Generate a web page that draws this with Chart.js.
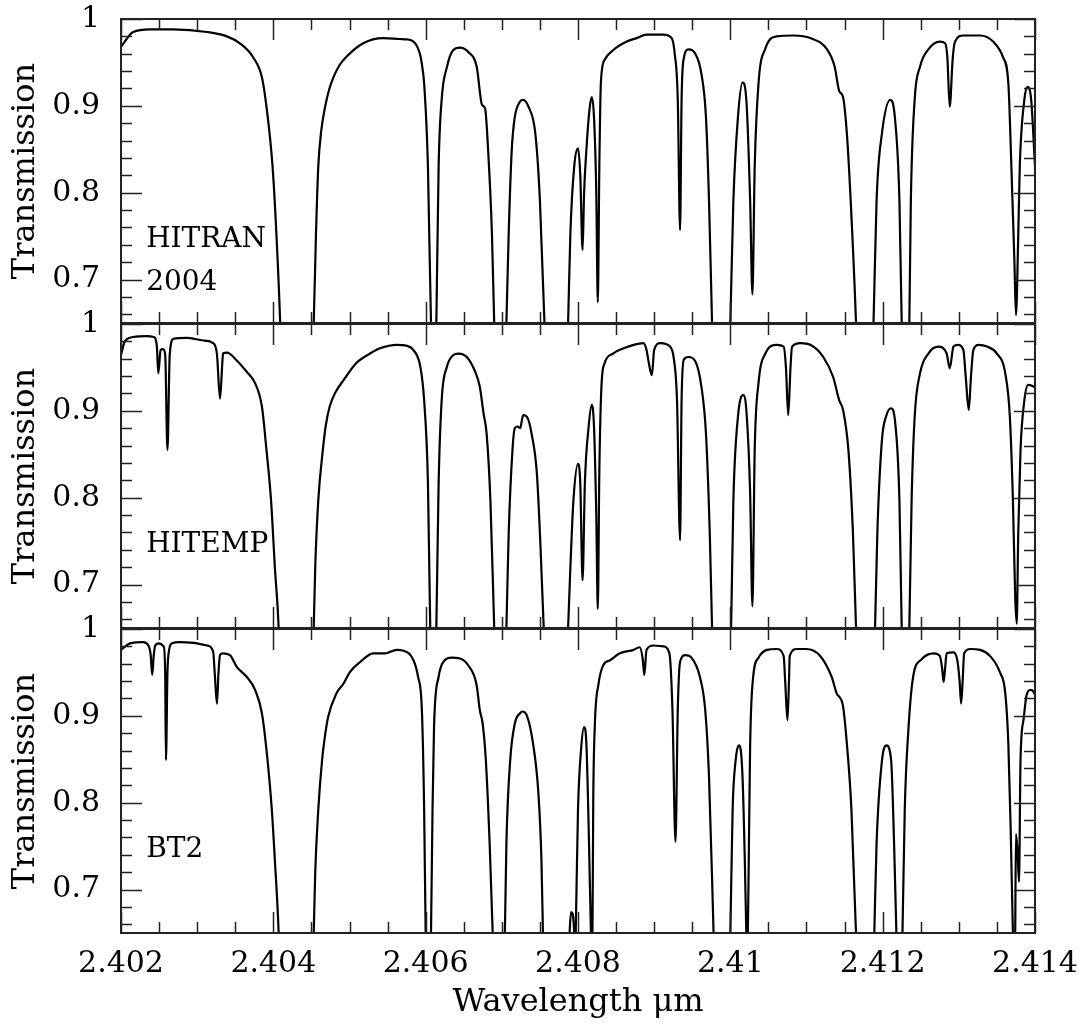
<!DOCTYPE html>
<html>
<head>
<meta charset="utf-8">
<title>Transmission</title>
<script src="https://cdn.jsdelivr.net/npm/chart.js@4.4.1/dist/chart.umd.min.js"></script>
<style>
  html, body { margin: 0; padding: 0; background: #fff; }
  #stack { position: relative; width: 1084px; height: 1025px; }
  #stack canvas { position: absolute; left: 0; top: 0; }
</style>
</head>
<body>
<div id="stack">
  <canvas id="panel0" width="1084" height="1025"></canvas>
  <canvas id="panel1" width="1084" height="1025"></canvas>
  <canvas id="panel2" width="1084" height="1025"></canvas>
</div>
<script>
// Axis ranges and tick labels
const X_MIN = 2.402, X_MAX = 2.414;
const Y_MIN = 0.65, Y_MAX = 1.0;
const xTickValues = [2.402, 2.404, 2.406, 2.408, 2.410, 2.412, 2.414];
const yTickValues = [0.7, 0.8, 0.9, 1.0];
const panelNames = [['HITRAN', '2004'], ['HITEMP'], ['BT2']];

// [wavelength (um), transmission] for each line list
const hitran2004 = [
  [2.40200,0.968],[2.40216,0.985],[2.40238,0.988],[2.40268,0.988],[2.40313,0.985],[2.40339,0.980],
  [2.40356,0.972],[2.40373,0.9565],[2.40385,0.933],[2.40391,0.899],[2.40399,0.830],[2.40404,0.753],
  [2.40409,0.650],[2.40410,0.62],[2.40451,0.62],[2.40453,0.650],[2.40456,0.753],[2.40459,0.830],
  [2.40463,0.872],[2.40468,0.899],[2.40473,0.918],[2.40479,0.933],[2.40487,0.947],[2.40496,0.9565],
  [2.40518,0.972],[2.40544,0.978],[2.40566,0.977],[2.40576,0.9765],[2.40584,0.974],[2.40589,0.968],
  [2.40593,0.958],[2.40596,0.942],[2.40598,0.926],[2.40603,0.830],[2.40607,0.650],[2.40610,0.62],
  [2.40613,0.62],[2.40614,0.650],[2.40617,0.830],[2.40621,0.907],[2.40628,0.945],[2.40636,0.964],
  [2.40645,0.967],[2.40656,0.962],[2.40667,0.945],[2.40674,0.901],[2.40678,0.897],[2.40682,0.849],
  [2.40687,0.753],[2.40690,0.650],[2.40691,0.62],[2.40705,0.62],[2.40706,0.650],[2.40709,0.753],
  [2.40713,0.849],[2.40717,0.887],[2.40724,0.905],[2.40728,0.907],[2.40735,0.899],[2.40744,0.868],
  [2.40750,0.791],[2.40756,0.650],[2.40757,0.62],[2.40786,0.62],[2.40787,0.650],[2.40790,0.753],
  [2.40795,0.830],[2.40800,0.851],[2.40803,0.820],[2.40806,0.734],[2.40808,0.800],[2.40811,0.849],
  [2.40815,0.895],[2.40818,0.910],[2.40821,0.887],[2.40824,0.800],[2.40826,0.674],[2.40828,0.830],
  [2.40830,0.926],[2.40835,0.953],[2.40846,0.964],[2.40864,0.974],[2.40877,0.978],[2.40890,0.982],
  [2.40912,0.982],[2.40923,0.978],[2.40927,0.960],[2.40931,0.907],[2.40934,0.757],[2.40936,0.907],
  [2.40939,0.955],[2.40945,0.965],[2.40954,0.960],[2.40962,0.937],[2.40968,0.887],[2.40972,0.791],
  [2.40976,0.650],[2.40977,0.62],[2.40999,0.62],[2.41000,0.650],[2.41004,0.791],[2.41010,0.887],
  [2.41016,0.927],[2.41021,0.907],[2.41026,0.791],[2.41029,0.683],[2.41032,0.830],[2.41037,0.926],
  [2.41046,0.966],[2.41061,0.980],[2.41083,0.981],[2.41105,0.978],[2.41127,0.965],[2.41137,0.945],
  [2.41143,0.917],[2.41148,0.910],[2.41153,0.868],[2.41158,0.791],[2.41165,0.650],[2.41166,0.62],
  [2.41187,0.62],[2.41188,0.650],[2.41192,0.791],[2.41199,0.868],[2.41210,0.907],[2.41216,0.887],
  [2.41222,0.791],[2.41225,0.650],[2.41226,0.62],[2.41234,0.62],[2.41235,0.650],[2.41237,0.791],
  [2.41242,0.907],[2.41249,0.945],[2.41260,0.965],[2.41275,0.974],[2.41282,0.972],[2.41285,0.955],
  [2.41288,0.899],[2.41292,0.955],[2.41295,0.974],[2.41306,0.981],[2.41328,0.981],[2.41345,0.974],
  [2.41358,0.956],[2.41365,0.926],[2.41369,0.830],[2.41373,0.720],[2.41375,0.659],[2.41378,0.750],
  [2.41380,0.830],[2.41386,0.907],[2.41390,0.922],[2.41395,0.907],[2.41400,0.830]
];

const hitemp = [
  [2.40200,0.964],[2.40205,0.980],[2.40216,0.985],[2.40234,0.986],[2.40243,0.985],[2.40247,0.975],
  [2.40249,0.943],[2.40252,0.970],[2.40255,0.971],[2.40258,0.965],[2.40261,0.855],[2.40264,0.965],
  [2.40269,0.983],[2.40286,0.984],[2.40308,0.981],[2.40321,0.978],[2.40326,0.965],[2.40330,0.914],
  [2.40333,0.955],[2.40334,0.966],[2.40339,0.967],[2.40352,0.958],[2.40365,0.945],[2.40376,0.932],
  [2.40385,0.905],[2.40391,0.855],[2.40397,0.797],[2.40402,0.720],[2.40407,0.650],[2.40408,0.62],
  [2.40451,0.62],[2.40453,0.650],[2.40455,0.720],[2.40459,0.797],[2.40465,0.855],[2.40469,0.884],
  [2.40474,0.905],[2.40482,0.922],[2.40492,0.935],[2.40509,0.955],[2.40527,0.966],[2.40540,0.972],
  [2.40562,0.976],[2.40575,0.975],[2.40584,0.970],[2.40593,0.951],[2.40598,0.912],[2.40603,0.816],
  [2.40606,0.650],[2.40607,0.62],[2.40613,0.62],
  [2.40614,0.650],[2.40617,0.816],[2.40621,0.912],[2.40628,0.951],[2.40636,0.964],[2.40643,0.966],
  [2.40654,0.962],[2.40665,0.945],[2.40671,0.928],[2.40676,0.897],[2.40680,0.874],[2.40685,0.797],
  [2.40690,0.650],[2.40691,0.62],[2.40705,0.62],[2.40706,0.650],[2.40709,0.759],[2.40714,0.855],
  [2.40717,0.880],[2.40721,0.882],[2.40724,0.880],[2.40728,0.895],[2.40733,0.893],[2.40739,0.874],
  [2.40746,0.828],[2.40751,0.739],[2.40755,0.650],[2.40757,0.62],[2.40786,0.62],[2.40787,0.650],
  [2.40790,0.720],[2.40794,0.797],[2.40800,0.839],[2.40803,0.816],[2.40806,0.705],[2.40809,0.816],
  [2.40814,0.882],[2.40818,0.907],[2.40821,0.882],[2.40824,0.780],[2.40826,0.672],[2.40828,0.830],
  [2.40831,0.932],[2.40835,0.955],[2.40846,0.966],[2.40860,0.972],[2.40873,0.976],[2.40886,0.978],
  [2.40890,0.970],[2.40893,0.955],[2.40897,0.941],[2.40900,0.970],[2.40908,0.978],[2.40921,0.974],
  [2.40926,0.959],[2.40930,0.912],[2.40934,0.751],[2.40936,0.912],[2.40939,0.959],[2.40945,0.962],
  [2.40954,0.957],[2.40962,0.928],[2.40968,0.874],[2.40973,0.759],[2.40976,0.650],[2.40977,0.62],
  [2.41000,0.62],[2.41001,0.650],[2.41004,0.797],[2.41010,0.893],[2.41017,0.918],[2.41021,0.901],
  [2.41026,0.805],[2.41029,0.675],[2.41032,0.855],[2.41037,0.932],[2.41046,0.966],[2.41061,0.976],
  [2.41070,0.974],[2.41073,0.950],[2.41076,0.895],[2.41079,0.950],[2.41081,0.974],[2.41092,0.978],
  [2.41105,0.976],[2.41122,0.962],[2.41135,0.939],[2.41143,0.912],[2.41148,0.901],[2.41155,0.855],
  [2.41161,0.759],[2.41165,0.650],[2.41166,0.62],[2.41189,0.62],[2.41190,0.650],[2.41193,0.759],
  [2.41199,0.866],[2.41205,0.895],[2.41211,0.903],[2.41216,0.890],[2.41222,0.797],[2.41225,0.650],
  [2.41226,0.62],[2.41234,0.62],[2.41235,0.650],[2.41238,0.797],[2.41242,0.893],[2.41249,0.943],
  [2.41260,0.966],[2.41273,0.974],[2.41284,0.966],[2.41288,0.949],[2.41293,0.974],[2.41299,0.976],
  [2.41306,0.970],[2.41309,0.940],[2.41313,0.901],[2.41316,0.940],[2.41319,0.970],[2.41326,0.976],
  [2.41337,0.974],[2.41350,0.966],[2.41361,0.943],[2.41367,0.893],[2.41371,0.797],[2.41374,0.686],
  [2.41376,0.655],[2.41378,0.759],[2.41381,0.855],[2.41386,0.912],[2.41391,0.930],[2.41396,0.929],
  [2.41400,0.927]
];

const bt2 = [
  [2.40200,0.976],[2.40212,0.9835],[2.40229,0.985],[2.40236,0.981],[2.40239,0.970],[2.40241,0.947],
  [2.40243,0.970],[2.40245,0.981],[2.40249,0.9835],[2.40256,0.980],[2.40258,0.950],[2.40259,0.849],
  [2.40261,0.950],[2.40263,0.975],[2.40267,0.9835],[2.40277,0.985],[2.40295,0.984],[2.40313,0.981],
  [2.40321,0.974],[2.40323,0.950],[2.40326,0.914],[2.40328,0.950],[2.40330,0.970],[2.40334,0.972],
  [2.40343,0.970],[2.40352,0.9565],[2.40365,0.945],[2.40376,0.930],[2.40385,0.903],[2.40391,0.861],
  [2.40398,0.792],[2.40402,0.734],[2.40407,0.650],[2.40408,0.62],[2.40451,0.62],[2.40453,0.650],
  [2.40455,0.720],[2.40459,0.792],[2.40464,0.849],[2.40468,0.878],[2.40472,0.899],[2.40483,0.926],
  [2.40492,0.937],[2.40501,0.951],[2.40514,0.962],[2.40531,0.972],[2.40547,0.972],[2.40562,0.976],
  [2.40571,0.975],[2.40584,0.964],[2.40590,0.945],[2.40595,0.907],[2.40598,0.792],[2.40600,0.650],
  [2.40601,0.62],[2.40606,0.62],[2.40607,0.650],[2.40609,0.792],[2.40611,0.888],[2.40617,0.945],
  [2.40625,0.964],[2.40634,0.967],[2.40645,0.966],[2.40656,0.958],[2.40667,0.935],[2.40671,0.907],
  [2.40675,0.890],[2.40679,0.849],[2.40684,0.753],[2.40688,0.650],[2.40689,0.62],[2.40703,0.62],
  [2.40704,0.650],[2.40706,0.753],[2.40711,0.849],[2.40717,0.891],[2.40724,0.903],[2.40727,0.905],
  [2.40733,0.900],[2.40741,0.868],[2.40748,0.811],[2.40752,0.734],[2.40754,0.650],[2.40755,0.62],
  [2.40788,0.62],[2.40789,0.650],[2.40791,0.674],[2.40793,0.672],[2.40795,0.650],[2.40796,0.62],
  [2.40797,0.650],[2.40800,0.792],[2.40804,0.861],[2.40808,0.887],[2.40811,0.868],[2.40814,0.772],
  [2.40817,0.650],[2.40818,0.630],[2.40819,0.650],[2.40820,0.800],[2.40822,0.887],[2.40827,0.937],
  [2.40833,0.958],[2.40842,0.964],[2.40855,0.972],[2.40873,0.976],[2.40881,0.979],[2.40885,0.965],
  [2.40887,0.947],[2.40890,0.976],[2.40899,0.981],[2.40912,0.980],[2.40920,0.972],[2.40924,0.907],
  [2.40928,0.755],[2.40931,0.907],[2.40934,0.962],[2.40941,0.970],[2.40949,0.967],[2.40960,0.945],
  [2.40967,0.907],[2.40972,0.830],[2.40978,0.650],[2.40979,0.62],[2.40999,0.62],[2.41000,0.650],
  [2.41003,0.792],[2.41007,0.849],[2.41012,0.866],[2.41016,0.830],[2.41019,0.734],[2.41021,0.650],
  [2.41022,0.630],[2.41023,0.650],[2.41024,0.720],[2.41026,0.866],[2.41030,0.945],[2.41037,0.967],
  [2.41048,0.976],[2.41061,0.977],[2.41070,0.969],[2.41072,0.940],[2.41075,0.895],[2.41077,0.940],
  [2.41078,0.969],[2.41087,0.977],[2.41100,0.977],[2.41118,0.969],[2.41133,0.945],[2.41140,0.925],
  [2.41143,0.922],[2.41148,0.911],[2.41153,0.868],[2.41159,0.792],[2.41165,0.650],[2.41166,0.62],
  [2.41188,0.62],[2.41189,0.650],[2.41192,0.753],[2.41199,0.848],[2.41205,0.866],[2.41211,0.850],
  [2.41215,0.753],[2.41218,0.650],[2.41219,0.62],[2.41225,0.62],[2.41226,0.650],[2.41229,0.792],
  [2.41234,0.887],[2.41240,0.945],[2.41251,0.965],[2.41267,0.972],[2.41275,0.969],[2.41278,0.955],
  [2.41280,0.939],[2.41282,0.955],[2.41284,0.972],[2.41293,0.973],[2.41298,0.964],[2.41301,0.940],
  [2.41303,0.914],[2.41305,0.940],[2.41307,0.972],[2.41315,0.977],[2.41328,0.976],[2.41341,0.969],
  [2.41354,0.950],[2.41361,0.926],[2.41365,0.868],[2.41368,0.772],[2.41371,0.650],[2.41372,0.62],
  [2.41373,0.62],[2.41374,0.650],[2.41375,0.764],[2.41377,0.745],[2.41379,0.709],[2.41381,0.850],
  [2.41385,0.896],[2.41389,0.924],[2.41394,0.930],[2.41398,0.928],[2.41400,0.924]
];

const spectra = [hitran2004, hitemp, bt2];

// Layout of the stacked panels (pixels in the 1084x1025 page)
const PAGE_W = 1084, PAGE_H = 1025;
const PLOT_LEFT = 121, PLOT_RIGHT = 1035;
const panelTop = [19, 324, 629];
const panelBottom = [323, 628, 933];
const FONT = 'DejaVu Serif';
const NAME_X = 2.40233;            // where the line-list name starts
const NAME_Y = [0.737, 0.688];     // baselines of its text lines

// Frame around each panel with inward-pointing ticks on all four sides
const frameTicks = {
  id: 'frameTicks',
  afterDraw(chart) {
    const { ctx, chartArea: a, scales: { x, y } } = chart;
    ctx.save();
    ctx.strokeStyle = '#222';
    ctx.lineWidth = 1.5;
    ctx.beginPath();
    for (let i = 0; i <= 24; i++) {
      const px = Math.round(x.getPixelForValue(X_MIN + i * 0.0005)) + 0.5;
      const len = i % 4 === 0 ? 21 : 11;
      ctx.moveTo(px, a.top); ctx.lineTo(px, a.top + len);
      ctx.moveTo(px, a.bottom); ctx.lineTo(px, a.bottom - len);
    }
    for (let k = 33; k <= 50; k++) {
      const py = Math.round(y.getPixelForValue(k * 0.02)) + 0.5;
      const len = (k * 2) % 10 === 0 ? 21 : 11;
      ctx.moveTo(a.left, py); ctx.lineTo(a.left + len, py);
      ctx.moveTo(a.right, py); ctx.lineTo(a.right - len, py);
    }
    ctx.stroke();
    ctx.lineWidth = 2;
    ctx.strokeRect(a.left, a.top, a.right - a.left, a.bottom - a.top);
    ctx.restore();
  }
};

// Name of the line list written inside the panel
const panelName = {
  id: 'panelName',
  afterDatasetsDraw(chart, args, opts) {
    const { ctx, scales: { x, y } } = chart;
    ctx.save();
    ctx.font = '28px "' + FONT + '"';
    ctx.fillStyle = '#000';
    ctx.textAlign = 'left';
    ctx.textBaseline = 'alphabetic';
    opts.lines.forEach((t, k) => {
      ctx.fillText(t, x.getPixelForValue(NAME_X), y.getPixelForValue(NAME_Y[k]));
    });
    ctx.restore();
  }
};

function makePanel(i) {
  const last = i === spectra.length - 1;
  const tickFont = { family: FONT, size: 30 };
  const titleFont = { family: FONT, size: 32 };
  return new Chart(document.getElementById('panel' + i), {
    type: 'line',
    data: {
      datasets: [{
        data: spectra[i].map(([w, t]) => ({ x: w, y: t })),
        borderColor: '#000',
        borderWidth: 2.2,
        pointRadius: 0,
        cubicInterpolationMode: 'monotone',
        fill: false
      }]
    },
    options: {
      responsive: false,
      animation: false,
      events: [],
      layout: {
        padding: {
          left: 0,
          right: PAGE_W - PLOT_RIGHT,
          top: panelTop[i],
          bottom: last ? 0 : PAGE_H - panelBottom[i]
        }
      },
      plugins: {
        legend: { display: false },
        tooltip: { enabled: false },
        panelName: { lines: panelNames[i] }
      },
      scales: {
        x: {
          type: 'linear',
          min: X_MIN,
          max: X_MAX,
          display: last,
          afterBuildTicks: s => { s.ticks = xTickValues.map(v => ({ value: v })); },
          afterFit: s => {
            // only the bottom panel carries the wavelength labels
            s.height = last ? PAGE_H - panelBottom[i] : 0;
            s.paddingLeft = 0;
            s.paddingRight = 0;
          },
          grid: { display: false, drawTicks: false },
          border: { display: false },
          ticks: {
            font: tickFont,
            color: '#000',
            padding: 13,
            maxRotation: 0,
            autoSkip: false,
            callback: v => String(parseFloat(Number(v).toFixed(3)))
          },
          title: {
            display: true,
            text: 'Wavelength μm',
            font: titleFont,
            color: '#000',
            padding: { top: 0, bottom: 3 }
          }
        },
        y: {
          min: Y_MIN,
          max: Y_MAX,
          afterBuildTicks: s => { s.ticks = yTickValues.map(v => ({ value: v })); },
          afterFit: s => {
            s.width = PLOT_LEFT;
            s.paddingTop = 0;
            s.paddingBottom = 0;
          },
          grid: { display: false, drawTicks: false },
          border: { display: false },
          ticks: {
            font: tickFont,
            color: '#000',
            padding: 21,
            callback: v => (v === 1 ? '1' : Number(v).toFixed(1))
          },
          title: {
            display: true,
            text: 'Transmission',
            font: titleFont,
            color: '#000',
            padding: { top: 6, bottom: 0 }
          }
        }
      }
    },
    plugins: [frameTicks, panelName]
  });
}

spectra.forEach((_, i) => makePanel(i));
</script>
</body>
</html>
